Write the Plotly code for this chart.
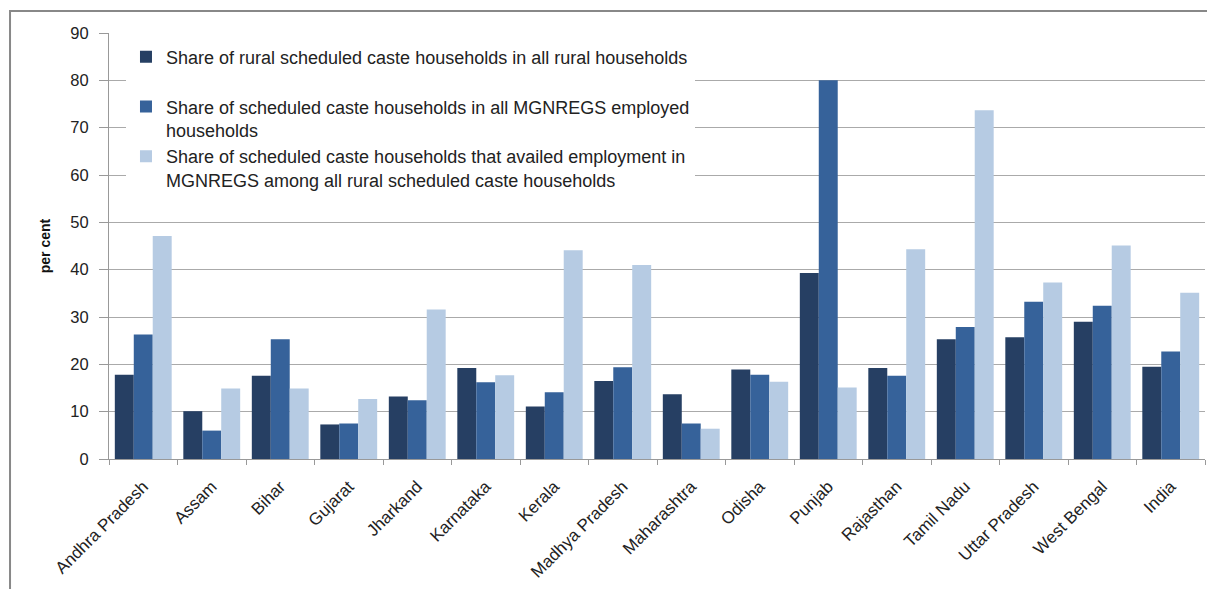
import plotly.graph_objects as go

states = ["Andhra Pradesh", "Assam", "Bihar", "Gujarat", "Jharkand", "Karnataka", "Kerala",
          "Madhya Pradesh", "Maharashtra", "Odisha", "Punjab", "Rajasthan", "Tamil Nadu",
          "Uttar Pradesh", "West Bengal", "India"]
share_rural = [17.8, 10.1, 17.6, 7.3, 13.2, 19.2, 11.1, 16.5, 13.7, 18.9, 39.3, 19.2, 25.3, 25.7, 29.0, 19.5]
share_mgnregs = [26.3, 6.0, 25.3, 7.5, 12.4, 16.2, 14.1, 19.4, 7.5, 17.8, 80.0, 17.6, 27.9, 33.2, 32.4, 22.7]
share_availed = [47.1, 14.9, 14.9, 12.7, 31.6, 17.7, 44.1, 41.0, 6.4, 16.3, 15.1, 44.3, 73.7, 37.3, 45.1, 35.1]

names = [
    "Share of rural scheduled caste households in all rural households<br>\u00a0",
    "Share of scheduled caste households in all MGNREGS employed<br>households",
    "Share of scheduled caste households that availed employment in<br>MGNREGS among all rural scheduled caste households",
]
colors = ["#263F63", "#36629A", "#B6CBE3"]

fig = go.Figure()
for i, (vals, nm, col) in enumerate(zip([share_rural, share_mgnregs, share_availed], names, colors)):
    fig.add_trace(go.Bar(x=states, y=vals, name=nm, marker=dict(color=col, line=dict(width=0)),
                         legendgroup=f"g{i}"))

fig.update_layout(
    width=1207, height=589,
    margin=dict(l=109, r=2, t=33, b=130),
    paper_bgcolor="white", plot_bgcolor="white",
    barmode="group", bargap=0.17, bargroupgap=0,
    font=dict(family="Liberation Sans, Arial, sans-serif", color="#222222"),
    legend=dict(x=0.0155, y=0.987, xanchor="left", yanchor="top", bgcolor="white",
                font=dict(size=18, color="#222222"), tracegroupgap=0,
                traceorder="grouped", itemwidth=30, valign="top"),
    xaxis=dict(type="category", tickson="boundaries", ticks="outside", ticklen=5,
               tickcolor="#999999", tickangle=-45, tickfont=dict(size=17, color="#222222"),
               ticklabelstandoff=10,
               showline=True, linecolor="#999999", linewidth=1, showgrid=False),
    yaxis=dict(range=[0, 90], dtick=10, ticks="outside", ticklen=9, tickcolor="#999999",
               tickfont=dict(size=16.5, color="#222222"), ticklabelstandoff=7,
               showline=True, linecolor="#999999",
               linewidth=1, showgrid=True, gridcolor="#AAAAAA", gridwidth=1, zeroline=False,
               title=dict(text="<b>per cent</b>", standoff=16,
                          font=dict(family="Liberation Sans Narrow, Arial Narrow, sans-serif",
                                    size=14, color="#111111"))),
    showlegend=True,
)

fig.add_shape(type="rect", xref="paper", yref="paper", x0=-0.0903, y0=-0.5, x1=1.1, y1=1.0516,
              line=dict(color="#888888", width=2), fillcolor="rgba(0,0,0,0)", layer="below")

fig.write_html("out.html", config={"displayModeBar": False},
               post_script="document.body.style.margin='0px';document.body.style.overflow='hidden';")
